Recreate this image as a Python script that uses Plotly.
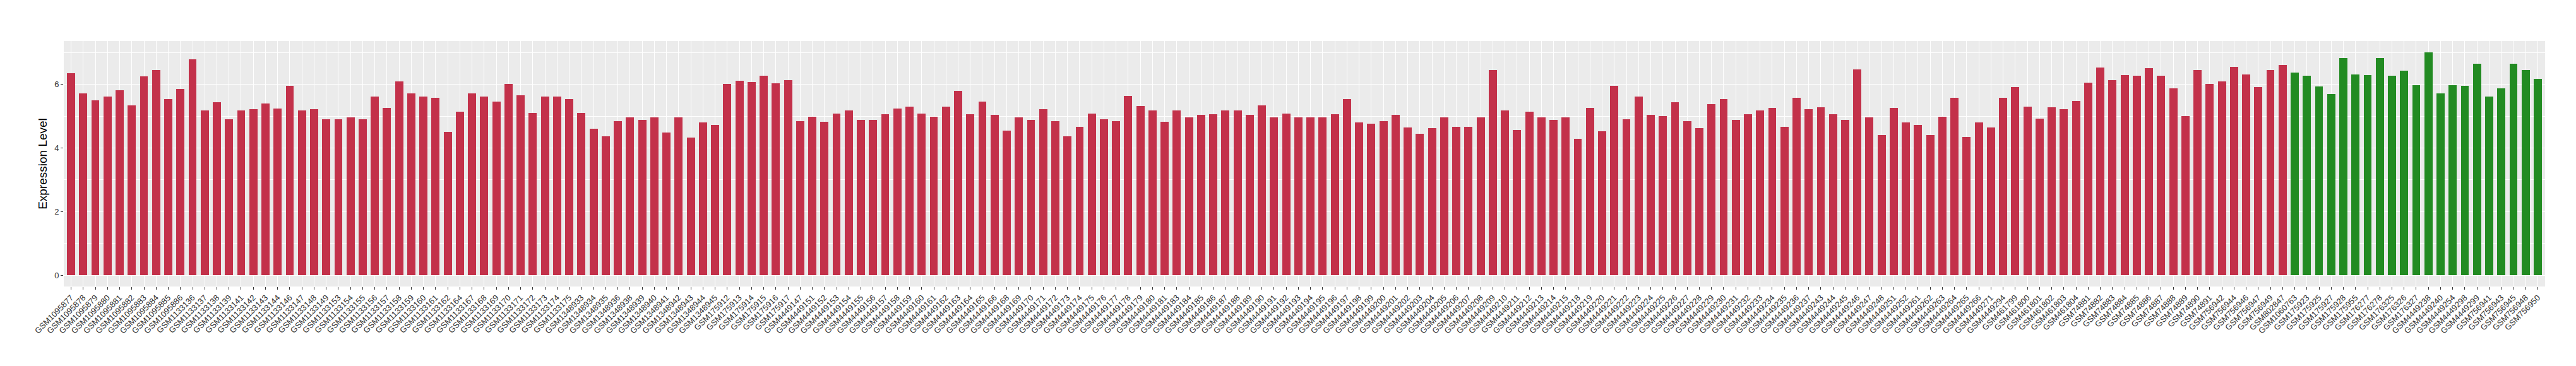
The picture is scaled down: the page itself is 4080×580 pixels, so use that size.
import plotly.graph_objects as go

red_samples = [
    "GSM1095877", "GSM1095878", "GSM1095879", "GSM1095880", "GSM1095881", "GSM1095882",
    "GSM1095883", "GSM1095884", "GSM1095885", "GSM1095886", "GSM1133136", "GSM1133137",
    "GSM1133138", "GSM1133139", "GSM1133141", "GSM1133142", "GSM1133143", "GSM1133144",
    "GSM1133146", "GSM1133147", "GSM1133148", "GSM1133149", "GSM1133153", "GSM1133154",
    "GSM1133155", "GSM1133156", "GSM1133157", "GSM1133158", "GSM1133159", "GSM1133160",
    "GSM1133161", "GSM1133162", "GSM1133164", "GSM1133167", "GSM1133168", "GSM1133169",
    "GSM1133170", "GSM1133171", "GSM1133172", "GSM1133173", "GSM1133174", "GSM1133175",
    "GSM1348933", "GSM1348934", "GSM1348935", "GSM1348936", "GSM1348938", "GSM1348939",
    "GSM1348940", "GSM1348941", "GSM1348942", "GSM1348943", "GSM1348944", "GSM1348945",
    "GSM175912", "GSM175913", "GSM175914", "GSM175915", "GSM175916", "GSM175917",
    "GSM4449147", "GSM4449151", "GSM4449152", "GSM4449153", "GSM4449154", "GSM4449155",
    "GSM4449156", "GSM4449157", "GSM4449158", "GSM4449159", "GSM4449160", "GSM4449161",
    "GSM4449162", "GSM4449163", "GSM4449164", "GSM4449165", "GSM4449166", "GSM4449168",
    "GSM4449169", "GSM4449170", "GSM4449171", "GSM4449172", "GSM4449173", "GSM4449174",
    "GSM4449175", "GSM4449176", "GSM4449177", "GSM4449178", "GSM4449179", "GSM4449180",
    "GSM4449181", "GSM4449183", "GSM4449184", "GSM4449185", "GSM4449186", "GSM4449187",
    "GSM4449188", "GSM4449189", "GSM4449190", "GSM4449191", "GSM4449192", "GSM4449193",
    "GSM4449194", "GSM4449195", "GSM4449196", "GSM4449197", "GSM4449198", "GSM4449199",
    "GSM4449200", "GSM4449201", "GSM4449202", "GSM4449203", "GSM4449204", "GSM4449205",
    "GSM4449206", "GSM4449207", "GSM4449208", "GSM4449209", "GSM4449210", "GSM4449211",
    "GSM4449212", "GSM4449213", "GSM4449214", "GSM4449215", "GSM4449218", "GSM4449219",
    "GSM4449220", "GSM4449221", "GSM4449222", "GSM4449223", "GSM4449224", "GSM4449225",
    "GSM4449226", "GSM4449227", "GSM4449228", "GSM4449229", "GSM4449230", "GSM4449231",
    "GSM4449232", "GSM4449233", "GSM4449234", "GSM4449235", "GSM4449236", "GSM4449237",
    "GSM4449243", "GSM4449244", "GSM4449245", "GSM4449246", "GSM4449247", "GSM4449248",
    "GSM4449251", "GSM4449252", "GSM4449261", "GSM4449262", "GSM4449263", "GSM4449264",
    "GSM4449265", "GSM4449266", "GSM4449271", "GSM4449294", "GSM461799", "GSM461800",
    "GSM461801", "GSM461802", "GSM461803", "GSM461804", "GSM74881", "GSM74882",
    "GSM74883", "GSM74884", "GSM74885", "GSM74886", "GSM74887", "GSM74888",
    "GSM74889", "GSM74890", "GSM74891", "GSM756942", "GSM756944", "GSM756946",
    "GSM756947", "GSM756949", "GSM802847",
]
red_values = [
    6.34, 5.72, 5.49, 5.61, 5.82, 5.33, 6.26, 6.45, 5.53, 5.86, 6.79, 5.18,
    5.43, 4.90, 5.19, 5.21, 5.39, 5.23, 5.96, 5.18, 5.21, 4.90, 4.90, 4.97,
    4.90, 5.61, 5.25, 6.10, 5.72, 5.61, 5.58, 4.50, 5.15, 5.71, 5.61, 5.45,
    6.02, 5.66, 5.11, 5.61, 5.61, 5.53, 5.11, 4.60, 4.36, 4.84, 4.96, 4.88,
    4.97, 4.48, 4.96, 4.32, 4.80, 4.72, 6.02, 6.12, 6.08, 6.28, 6.04, 6.14,
    4.84, 4.99, 4.82, 5.09, 5.18, 4.88, 4.88, 5.07, 5.23, 5.29, 5.09, 4.99,
    5.29, 5.80, 5.07, 5.45, 5.05, 4.54, 4.96, 4.88, 5.21, 4.84, 4.36, 4.66,
    5.09, 4.90, 4.85, 5.63, 5.31, 5.19, 4.82, 5.19, 4.96, 5.04, 5.07, 5.19,
    5.19, 5.05, 5.33, 4.96, 5.09, 4.96, 4.97, 4.97, 5.07, 5.53, 4.80, 4.77,
    4.85, 5.05, 4.64, 4.44, 4.62, 4.97, 4.66, 4.66, 4.97, 6.45, 5.18, 4.56,
    5.15, 4.97, 4.88, 4.96, 4.28, 5.25, 4.52, 5.96, 4.91, 5.61, 5.04, 5.01,
    5.43, 4.84, 4.62, 5.37, 5.53, 4.88, 5.07, 5.18, 5.25, 4.66, 5.58, 5.21,
    5.27, 5.07, 4.88, 6.47, 4.96, 4.40, 5.25, 4.80, 4.72, 4.40, 4.99, 5.57,
    4.34, 4.80, 4.64, 5.58, 5.92, 5.29, 4.93, 5.27, 5.21, 5.47, 6.06, 6.53,
    6.14, 6.30, 6.28, 6.50, 6.28, 5.88, 5.01, 6.44, 6.02, 6.10, 6.55, 6.31,
    5.91, 6.44, 6.61,
]

green_samples = [
    "GSM1060763", "GSM175923", "GSM175925", "GSM175927", "GSM175928", "GSM175955",
    "GSM176277", "GSM176278", "GSM176325", "GSM176326", "GSM176327", "GSM4449238",
    "GSM4449240", "GSM4449254", "GSM4449298", "GSM4449299", "GSM756941", "GSM756943",
    "GSM756945", "GSM756948", "GSM756950",
]
green_values = [
    6.37, 6.28, 5.94, 5.69, 6.83, 6.31, 6.30, 6.83, 6.28, 6.42, 5.98, 7.01,
    5.72, 5.98, 5.96, 6.64, 5.61, 5.88, 6.64, 6.44, 6.18,
]

y_title = "Expression Level"
y_ticks = [0, 2, 4, 6]

RED = "#C3314A"
GREEN = "#228B22"
FONT = "Liberation Sans, Arial, sans-serif"

categories = red_samples + green_samples
ymax = max(red_values + green_values)

fig = go.Figure()
fig.add_trace(go.Bar(x=red_samples, y=red_values, marker=dict(color=RED, line=dict(width=0)),
                     width=0.67, showlegend=False))
fig.add_trace(go.Bar(x=green_samples, y=green_values, marker=dict(color=GREEN, line=dict(width=0)),
                     width=0.67, showlegend=False))

n = len(categories)
fig.update_layout(
    width=4080, height=580,
    margin=dict(l=93, r=57, t=57, b=134, pad=0),
    paper_bgcolor="white", plot_bgcolor="#EBEBEB",
    barmode="overlay", bargap=0,
    font=dict(family=FONT, color="#4D4D4D"),
)
fig.update_xaxes(
    type="category", categoryorder="array", categoryarray=categories,
    range=[-0.6, n - 1 + 0.6],
    tickangle=-45, tickfont=dict(size=13, color="#333333", family=FONT),
    ticks="outside", ticklen=4, tickwidth=1.1, tickcolor="#333333",
    showgrid=True, gridcolor="white", gridwidth=1.1,
    showline=False, zeroline=False, automargin=False,
)
fig.update_yaxes(
    range=[-0.05 * ymax, 1.05 * ymax],
    tickvals=y_ticks, ticktext=[str(t) for t in y_ticks],
    tickfont=dict(size=13, color="#333333", family=FONT),
    ticks="outside", ticklen=4, tickwidth=1.1, tickcolor="#333333",
    showgrid=True, gridcolor="white", gridwidth=1.1,
    minor=dict(tickvals=[1, 3, 5, 7], showgrid=True, gridcolor="white", gridwidth=0.55, ticks=""),
    zeroline=False, showline=False, automargin=False,
    title=dict(text=y_title, font=dict(size=19, color="black", family=FONT), standoff=6),
)

fig.write_html("out.html")
